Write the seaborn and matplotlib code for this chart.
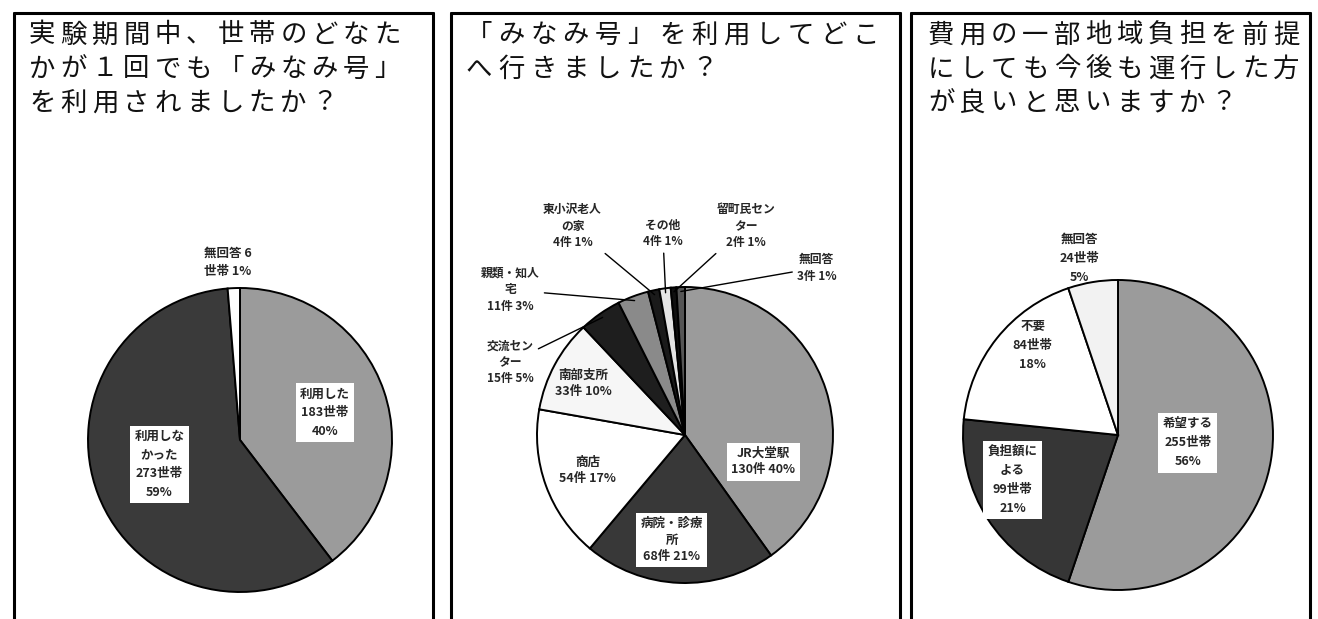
"""Recreate three survey pie charts about the みなみ号 bus"""
import numpy as np
import matplotlib.pyplot as plt
from matplotlib.lines import Line2D
import seaborn as sns

# Data
q1_labels = ['利用した\n183世帯\n40%', '利用しな\nかった\n273世帯\n59%', '無回答 6\n世帯 1%']
q1_counts = [183, 273, 6]

q2_labels = ['JR大堂駅\n130件 40%', '病院・診療\n所\n68件 21%', '商店\n54件 17%',
             '南部支所\n33件 10%', '交流セン\nター\n15件 5%', '親類・知人\n宅\n11件 3%',
             '東小沢老人\nの家\n4件 1%', 'その他\n4件 1%', '留町民セン\nター\n2件 1%',
             '無回答\n3件 1%']
q2_counts = [130, 68, 54, 33, 15, 11, 4, 4, 2, 3]

q3_labels = ['希望する\n255世帯\n56%', '負担額に\nよる\n99世帯\n21%', '不要\n84世帯\n18%',
             '無回答\n24世帯\n5%']
q3_counts = [255, 99, 84, 24]

titles = [['実験期間中、世帯のどなた', 'かが１回でも「みなみ号」', 'を利用されましたか？'],
          ['「みなみ号」を利用してどこ', 'へ行きましたか？'],
          ['費用の一部地域負担を前提', 'にしても今後も運行した方', 'が良いと思いますか？']]

# Styling
sns.set_theme(style='white')
plt.rcParams['font.family'] = ['Noto Sans CJK JP', 'DejaVu Sans']

W, H = 1318, 619
fig = plt.figure(figsize=(W / 100, H / 100), dpi=100)
fig.patch.set_facecolor('white')


def fx(x):
    return x / W


def fy(y):
    return 1 - y / H


# panel frames (left, right) in pixels, top at y=13
frames = [(14, 433), (451, 900), (911, 1310)]
for left, right in frames:
    for xs, ys in [((left, left), (13, 640)), ((right, right), (13, 640)),
                   ((left, right), (13, 13))]:
        fig.add_artist(Line2D([fx(v) for v in xs], [fy(v) for v in ys],
                              color='black', lw=2.2, transform=fig.transFigure))

# titles drawn one character per cell to get the wide spacing
title_x = [29, 466, 928]
pitches = [31.4, 32.2, 31.4]
for x0, pitch, lines in zip(title_x, pitches, titles):
    for j, line in enumerate(lines):
        for i, ch in enumerate(line):
            fig.text(fx(x0 + i * pitch), fy(35 + j * 34), ch, fontsize=19,
                     ha='left', va='center', color='#111111')


def draw_pie(cx, cy, r, counts, labels, colors, label_pos, boxed, leaders, ls):
    pad = 1.05
    ax = fig.add_axes([fx(cx - r * pad), fy(cy + r * pad), 2 * r * pad / W, 2 * r * pad / H])
    wedges, _ = ax.pie(counts, colors=colors, startangle=90, counterclock=False,
                       radius=1, wedgeprops=dict(edgecolor='black', linewidth=1.4))
    ax.set_xlim(-pad, pad)
    ax.set_ylim(-pad, pad)
    ax.set_axis_off()
    for k, (w, lab) in enumerate(zip(wedges, labels)):
        bbox = dict(boxstyle='square,pad=0.35', fc='white', ec='none') if boxed[k] else None
        if leaders[k]:
            th = np.deg2rad((w.theta1 + w.theta2) / 2)
            ax.annotate(lab, xy=(0.97 * np.cos(th), 0.97 * np.sin(th)), xytext=label_pos[k],
                        ha='center', va='center', fontsize=8.5, fontweight='bold',
                        linespacing=ls,
                        arrowprops=dict(arrowstyle='-', color='black', lw=1.0,
                                        shrinkA=1, shrinkB=0))
        else:
            ax.text(*label_pos[k], lab, ha='center', va='center', fontsize=9,
                    fontweight='bold', linespacing=ls, bbox=bbox)


draw_pie(240, 440, 152, q1_counts, q1_labels,
         ['#9b9b9b', '#3a3a3a', '#ffffff'],
         [(0.56, 0.18), (-0.53, -0.16), (-0.08, 1.17)],
         [True, True, False], [False, False, False], 1.55)

draw_pie(685, 435, 148, q2_counts, q2_labels,
         ['#9b9b9b', '#383838', '#ffffff', '#f6f6f6', '#1e1e1e', '#8a8a8a',
          '#1a1a1a', '#e4e4e4', '#101010', '#555555'],
         [(0.53, -0.18), (-0.09, -0.71), (-0.66, -0.24), (-0.69, 0.35), (-1.18, 0.49),
          (-1.18, 0.98), (-0.76, 1.41), (-0.15, 1.36), (0.41, 1.41), (0.89, 1.13)],
         [True, True, False, False, False, False, False, False, False, False],
         [False, False, False, False, True, True, True, True, True, True], 1.35)

draw_pie(1118, 435, 155, q3_counts, q3_labels,
         ['#9b9b9b', '#363636', '#ffffff', '#f2f2f2'],
         [(0.45, -0.05), (-0.68, -0.29), (-0.55, 0.58), (-0.25, 1.14)],
         [True, True, False, False], [False, False, False, False], 1.6)

plt.savefig('out.png', dpi=100, facecolor='white')
